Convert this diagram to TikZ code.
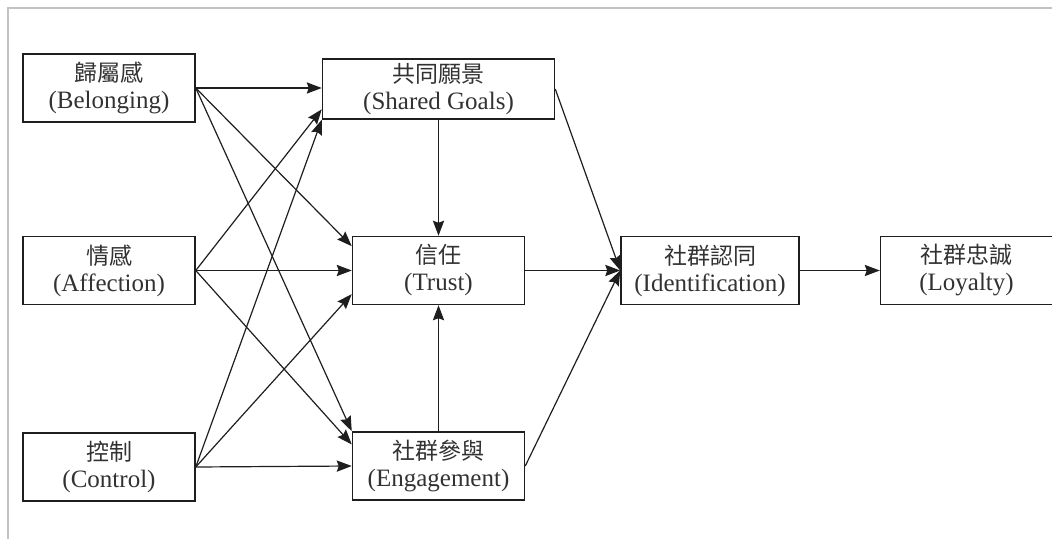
\documentclass[tikz,border=0pt]{standalone}
\usepackage{fontspec}
\setmainfont{Liberation Serif}
\newfontfamily\cjk[Scale=0.92]{Noto Sans CJK TC}
\usepackage{xcolor}
\usepackage{tikz}
\usetikzlibrary{arrows.meta, positioning, calc}
\definecolor{framegray}{RGB}{195, 195, 195}
\definecolor{inkgray}{RGB}{30, 30, 30}
\definecolor{txtgray}{RGB}{50, 50, 50}
\newcommand{\zh}[1]{{\cjk #1}}

\begin{document}
\begin{tikzpicture}[
  every node/.style={font=\fontsize{12.5}{13.5}\selectfont, text=txtgray},
  box/.style={draw=inkgray, line width=0.75pt, minimum width=86pt,
              minimum height=34pt, align=center, inner sep=1pt},
  widebox/.style={box, minimum width=116pt, minimum height=30pt},
  idbox/.style={box, minimum width=89pt},
  arrow/.style={-{Stealth[length=7.5pt, width=5.6pt, inset=1pt]},
                line width=0.6pt, inkgray}
]

\useasboundingbox (0,0) rectangle (526pt,-269.5pt);

% ── Frame ────────────────────────────────────────────────────────────────────
\draw[framegray, line width=1pt] (526pt,-4pt) -- (3.75pt,-4pt) -- (3.75pt,-269.5pt);

% ── Nodes ────────────────────────────────────────────────────────────────────
\node[box] (belong) at (54.5pt,-44pt) {\zh{歸屬感}\\(Belonging)};

\node[box, below=56.5pt of belong] (affect) {\zh{情感}\\(Affection)};

\node[box, below=63.5pt of affect] (control) {\zh{控制}\\(Control)};

\node[box, right=78pt of affect] (trust) {\zh{信任}\\(Trust)};

\node[widebox, above=58pt of trust] (shared) {\zh{共同願景}\\(Shared Goals)};

\node[box, below=63pt of trust] (engage) {\zh{社群參與}\\(Engagement)};

\node[idbox, right=47.5pt of trust] (ident) {\zh{社群認同}\\(Identification)};

\node[box, right=40pt of ident] (loyal) {\zh{社群忠誠}\\(Loyalty)};

% ── Arrows ────────────────────────────────────────────────────────────────────
% Belonging → shared goals, trust, engagement
\draw[arrow] (belong.east) -- (belong.east -| shared.west);
\draw[arrow] (belong.east) -- ($(trust.west)!0.7!(trust.north west)$);
\draw[arrow] (belong.east) -- (engage.north west);

% Affection → shared goals, trust, engagement
\draw[arrow] (affect.east) -- ($(shared.west)!0.66!(shared.south west)$);
\draw[arrow] (affect.east) -- (trust.west);
\draw[arrow] (affect.east) -- ($(engage.west)!0.62!(engage.north west)$);

% Control → shared goals, trust, engagement
\draw[arrow] (control.east) -- (shared.south west);
\draw[arrow] (control.east) -- ($(trust.west)!0.68!(trust.south west)$);
\draw[arrow] (control.east) -- (engage.west);

% Shared goals and engagement → trust
\draw[arrow] (shared.south) -- (trust.north);
\draw[arrow] (engage.north) -- (trust.south);

% Into identification
\draw[arrow] (shared.east) -- (ident.west);
\draw[arrow] (trust.east) -- (ident.west);
\draw[arrow] (engage.east) -- (ident.west);

% Identification → loyalty
\draw[arrow] (ident.east) -- (loyal.west);

\end{tikzpicture}
\end{document}
